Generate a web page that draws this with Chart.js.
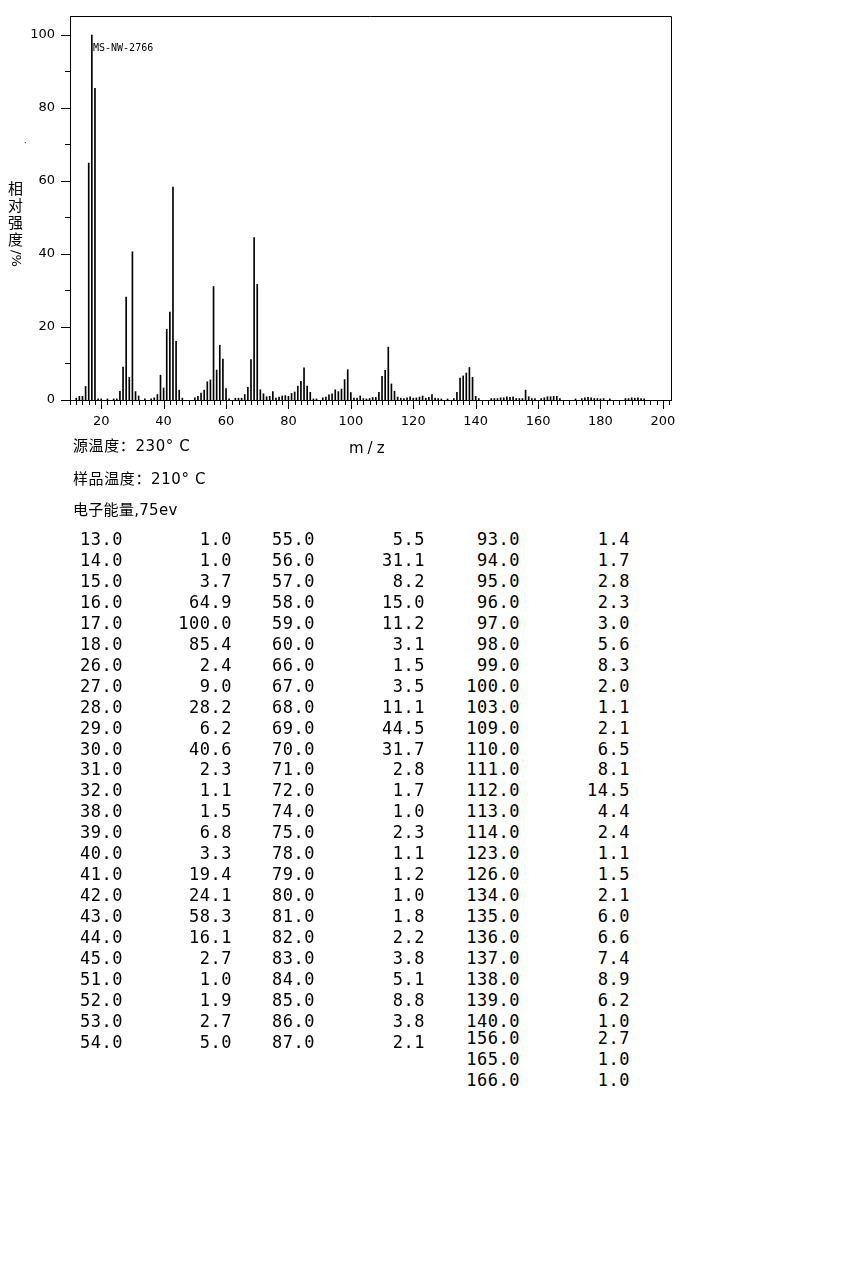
<!DOCTYPE html>
<html>
<head>
<meta charset="utf-8">
<script src="https://cdn.jsdelivr.net/npm/chart.js@4.4.0/dist/chart.umd.min.js"></script>
<style>
  body { margin: 0; background: #fff; width: 850px; height: 1276px; position: relative; overflow: hidden;
         font-family: "DejaVu Sans", "Noto Sans CJK SC", sans-serif; color: #000; }
  #wrap { position: absolute; left: 0; top: 0; width: 700px; height: 460px; }
  .t { position: absolute; white-space: pre; line-height: 20px; }
  .cell { position: absolute; width: 90px; text-align: right; font-family: "DejaVu Sans Mono", monospace;
          font-size: 17px; letter-spacing: 0.5px; line-height: 20px; white-space: pre; }
  .yl { position: absolute; left: 7px; width: 17px; text-align: center; font-family: "Noto Sans CJK SC", sans-serif;
        font-size: 15px; line-height: 17px; }
  #pct { position: absolute; left: 24px; top: 250px; font-size: 13px; line-height: 16px; white-space: pre;
         transform-origin: 0 0; transform: rotate(90deg); }
</style>
</head>
<body>
<div id="wrap"><canvas id="ms" width="700" height="460"></canvas></div>

<div class="t" style="left:93px;top:38px;font-family:'DejaVu Sans Mono',monospace;font-size:10px;">MS-NW-2766</div>
<div class="t" style="left:24px;top:134px;font-size:8px;">·</div>
<div class="yl" style="top:179px">相</div>
<div class="yl" style="top:196px">对</div>
<div class="yl" style="top:213px">强</div>
<div class="yl" style="top:230px">度</div>
<div id="pct">/%</div>
<div class="t" style="left:349px;top:438px;font-size:15px;letter-spacing:4px;">m/z</div>

<div class="t" style="left:73px;top:436px;font-size:15px;letter-spacing:0.6px;">源温度：230° C</div>
<div class="t" style="left:73px;top:469px;font-size:15px;letter-spacing:0.6px;">样品温度：210° C</div>
<div class="t" style="left:73px;top:500px;font-size:15px;letter-spacing:0.3px;">电子能量,75ev</div>

<div id="table"></div>

<script>
// peaks listed in the table (m/z, relative intensity %)
const tableMz = [13, 14, 15, 16, 17, 18, 26, 27, 28, 29, 30, 31, 32, 38, 39, 40, 41, 42, 43, 44, 45, 51, 52, 53, 54,
  55, 56, 57, 58, 59, 60, 66, 67, 68, 69, 70, 71, 72, 74, 75, 78, 79, 80, 81, 82, 83, 84, 85, 86, 87,
  93, 94, 95, 96, 97, 98, 99, 100, 103, 109, 110, 111, 112, 113, 114, 123, 126, 134, 135, 136, 137, 138, 139, 140,
  156, 165, 166];
const tableInt = [1.0, 1.0, 3.7, 64.9, 100.0, 85.4, 2.4, 9.0, 28.2, 6.2, 40.6, 2.3, 1.1, 1.5, 6.8, 3.3, 19.4, 24.1, 58.3, 16.1, 2.7, 1.0, 1.9, 2.7, 5.0,
  5.5, 31.1, 8.2, 15.0, 11.2, 3.1, 1.5, 3.5, 11.1, 44.5, 31.7, 2.8, 1.7, 1.0, 2.3, 1.1, 1.2, 1.0, 1.8, 2.2, 3.8, 5.1, 8.8, 3.8, 2.1,
  1.4, 1.7, 2.8, 2.3, 3.0, 5.6, 8.3, 2.0, 1.1, 2.1, 6.5, 8.1, 14.5, 4.4, 2.4, 1.1, 1.5, 2.1, 6.0, 6.6, 7.4, 8.9, 6.2, 1.0,
  2.7, 1.0, 1.0];

// small peaks seen in the plot but not in the table
const minorMz = [12, 19, 20, 22, 24, 25, 34, 36, 37, 46, 50, 61, 63, 64, 65, 73, 76, 77, 88, 89, 91, 92,
  101, 102, 104, 105, 106, 107, 108, 115, 116, 117, 118, 119, 120, 121, 122, 124, 125, 127, 128, 129, 131, 133,
  141, 145, 146, 147, 148, 149, 150, 151, 152, 153, 154, 155, 157, 158, 159, 161, 162, 163, 164, 167,
  172, 174, 175, 176, 177, 178, 179, 180, 181, 183, 188, 189, 190, 191, 192, 193, 194];
const minorInt = [0.5, 0.3, 0.3, 0.3, 0.3, 0.3, 0.3, 0.3, 0.6, 0.5, 0.6, 0.3, 0.5, 0.5, 0.5, 0.9, 0.5, 0.8, 0.3, 0.3, 0.6, 0.8,
  0.5, 0.5, 0.4, 0.3, 0.4, 0.7, 0.7, 0.8, 0.5, 0.4, 0.6, 0.9, 0.5, 0.6, 0.8, 0.5, 0.7, 0.5, 0.4, 0.3, 0.3, 0.4,
  0.4, 0.4, 0.4, 0.4, 0.6, 0.6, 0.9, 0.7, 0.9, 0.4, 0.4, 0.4, 0.9, 0.4, 0.4, 0.4, 0.6, 0.9, 0.9, 0.4,
  0.3, 0.4, 0.6, 0.7, 0.6, 0.4, 0.4, 0.3, 0.4, 0.3, 0.4, 0.4, 0.6, 0.5, 0.6, 0.4, 0.3];

// table columns: how many rows each column holds
const colSizes = [25, 25, 27];
const colRight = [[123, 232], [315, 425], [520, 630]];

// === Table text ===
const tbl = document.getElementById("table");
let k = 0;
colSizes.forEach((n, c) => {
  for (let r = 0; r < n; r++, k++) {
    let cy = 539 + r * 20.95;
    if (c === 2 && r >= 24) cy = [1038, 1059, 1080][r - 24];
    const a = document.createElement("div");
    a.className = "cell";
    a.style.left = (colRight[c][0] - 90) + "px";
    a.style.top = (cy - 10) + "px";
    a.textContent = tableMz[k].toFixed(1);
    const b = document.createElement("div");
    b.className = "cell";
    b.style.left = (colRight[c][1] - 90) + "px";
    b.style.top = (cy - 10) + "px";
    b.textContent = tableInt[k].toFixed(1);
    tbl.appendChild(a);
    tbl.appendChild(b);
  }
});

// === Spectrum ===
const allMz = tableMz.concat(minorMz);
const allInt = tableInt.concat(minorInt);

// frame + tick marks (short every 2 / 10, long every 20)
const tickPlugin = {
  id: "ticks",
  afterDraw(chart) {
    const { ctx, chartArea: a, scales: { x, y } } = chart;
    ctx.save();
    ctx.strokeStyle = "#000";
    ctx.lineWidth = 1;
    ctx.beginPath();
    ctx.moveTo(a.left, a.top + 0.5); ctx.lineTo(a.right + 0.5, a.top + 0.5);
    ctx.lineTo(a.right + 0.5, a.bottom);
    for (let v = 10; v <= 202; v += 2) {
      const px = Math.round(x.getPixelForValue(v)) + 0.5;
      ctx.moveTo(px, a.bottom);
      ctx.lineTo(px, a.bottom + (v % 20 === 0 ? 9 : 5));
    }
    for (let v = 0; v <= 100; v += 10) {
      const py = Math.round(y.getPixelForValue(v)) + 0.5;
      ctx.moveTo(a.left, py);
      ctx.lineTo(a.left - (v % 20 === 0 ? 9 : 5), py);
    }
    ctx.stroke();
    ctx.restore();
  }
};

new Chart(document.getElementById("ms"), {
  type: "bar",
  data: {
    datasets: [{
      data: allMz.map((m, i) => ({ x: m, y: allInt[i] })),
      backgroundColor: "#000",
      borderWidth: 0,
      barThickness: 1,
    }]
  },
  options: {
    responsive: false,
    animation: false,
    devicePixelRatio: 1,
    layout: { padding: { left: 0, top: 16, right: 29, bottom: 0 } },
    plugins: { legend: { display: false }, tooltip: { enabled: false } },
    scales: {
      x: {
        type: "linear", min: 10, max: 202.6, offset: false,
        grid: { display: false, drawTicks: false, offset: false },
        border: { display: true, color: "#000", width: 1 },
        ticks: {
          stepSize: 2, includeBounds: false, autoSkip: false, maxRotation: 0, padding: 14,
          color: "#000", font: { family: "DejaVu Sans", size: 13 },
          callback: v => (v % 20 === 0 ? v : "")
        },
        afterFit: s => { s.height = 60; s.paddingLeft = 0; s.paddingRight = 0; }
      },
      y: {
        min: 0, max: 105.2,
        grid: { display: false, drawTicks: false },
        border: { display: true, color: "#000", width: 1 },
        ticks: {
          stepSize: 20, includeBounds: false, padding: 15,
          color: "#000", font: { family: "DejaVu Sans", size: 13 }
        },
        afterFit: s => { s.width = 70; s.paddingTop = 0; s.paddingBottom = 0; }
      }
    }
  },
  plugins: [tickPlugin]
});
</script>
</body>
</html>
